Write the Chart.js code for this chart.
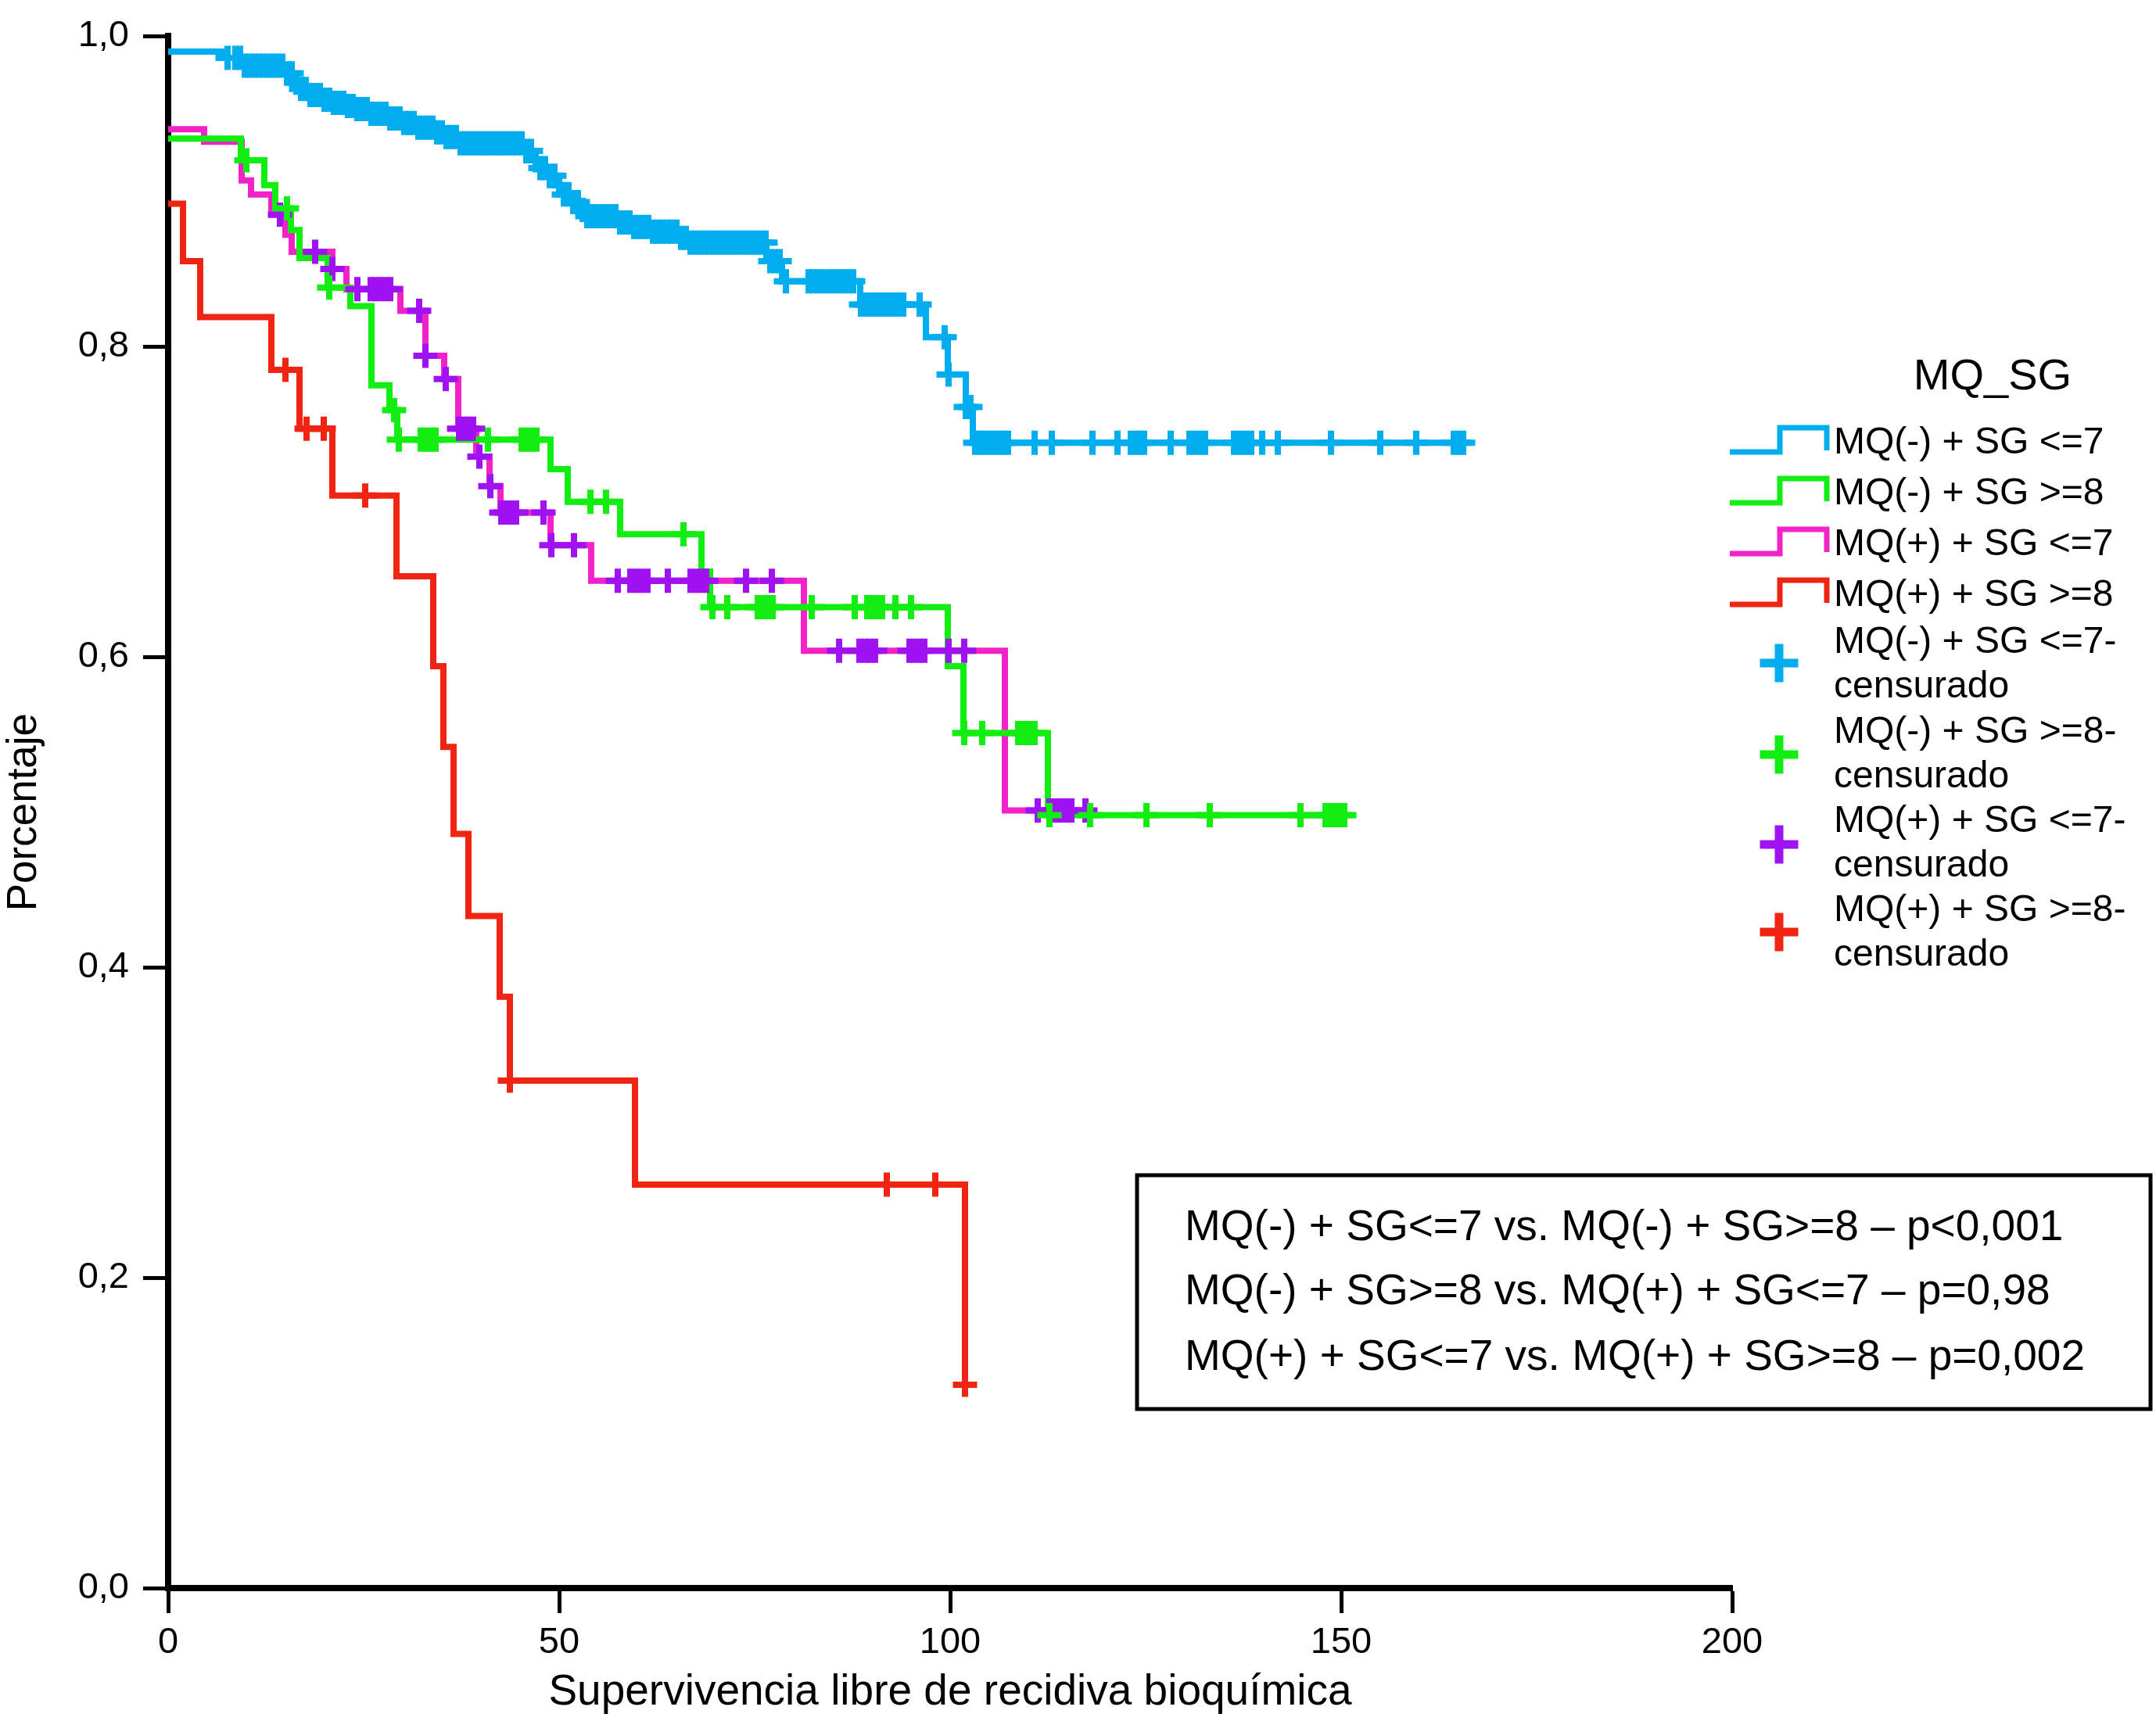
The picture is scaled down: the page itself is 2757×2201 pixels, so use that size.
<!DOCTYPE html>
<html>
<head>
<meta charset="utf-8">
<script src="https://cdn.jsdelivr.net/npm/chart.js@4.4.1/dist/chart.umd.min.js"></script>
<style>
html,body{margin:0;padding:0;background:#fff;overflow:hidden;}
#wrap{width:2757px;height:2201px;position:relative;background:#fff;}
</style>
</head>
<body>
<div id="wrap"><canvas id="c" width="2757" height="2201"></canvas></div>
<script>
// ---------- text ----------
const xTickValues = [0, 50, 100, 150, 200];
const yTickValues = [0, 0.2, 0.4, 0.6, 0.8, 1.0];
const yTickLabels = ['0,0', '0,2', '0,4', '0,6', '0,8', '1,0'];
const xAxisTitle = 'Supervivencia libre de recidiva bioquímica';
const yAxisTitle = 'Porcentaje';
const legendTitle = 'MQ_SG';
const seriesNames = ['MQ(-) + SG <=7', 'MQ(-) + SG >=8', 'MQ(+) + SG <=7', 'MQ(+) + SG >=8'];
const censorNames = [
  ['MQ(-) + SG <=7-', 'censurado'],
  ['MQ(-) + SG >=8-', 'censurado'],
  ['MQ(+) + SG <=7-', 'censurado'],
  ['MQ(+) + SG >=8-', 'censurado']
];
const pValueLines = [
  'MQ(-) + SG<=7 vs. MQ(-) + SG>=8 \u2013 p<0,001',
  'MQ(-) + SG>=8 vs. MQ(+) + SG<=7 \u2013 p=0,98',
  'MQ(+) + SG<=7 vs. MQ(+) + SG>=8 \u2013 p=0,002'
];

// ---------- series: step start times and survival ----------
const blueTimes = [0, 7.5, 9.5, 15.0, 16.0, 17.0, 18.0, 19.5, 21.0, 22.5, 24.0, 26.0, 28.0, 30.0, 32.0, 34.0, 35.5, 37.3, 45.5, 46.5, 47.5, 48.5, 49.5, 50.5, 51.5, 52.5, 53.5, 57.8, 59.5, 61.5, 65.5, 66.5, 76.5, 78.5, 88.5, 96.9, 99.7, 102.0, 102.9, 166.0];
const blueSurv  = [0.990, 0.986, 0.981, 0.976, 0.970, 0.966, 0.962, 0.959, 0.957, 0.955, 0.953, 0.950, 0.947, 0.944, 0.941, 0.938, 0.935, 0.931, 0.926, 0.920, 0.915, 0.910, 0.904, 0.898, 0.893, 0.888, 0.884, 0.880, 0.877, 0.874, 0.870, 0.867, 0.855, 0.842, 0.827, 0.806, 0.782, 0.761, 0.738, 0.738];

const greenTimes = [0, 9.3, 12.3, 13.7, 15.7, 16.8, 20.4, 23.3, 26.0, 28.3, 29.3, 48.9, 51.1, 57.8, 68.2, 69.3, 99.7, 101.7, 112.5, 150.4];
const greenSurv  = [0.934, 0.920, 0.904, 0.889, 0.875, 0.857, 0.838, 0.826, 0.775, 0.759, 0.740, 0.721, 0.700, 0.679, 0.655, 0.632, 0.594, 0.551, 0.498, 0.498];

const pinkTimes = [0, 4.6, 9.4, 10.6, 13.2, 15.0, 15.8, 21.0, 22.8, 29.7, 32.9, 35.3, 37.1, 39.4, 41.1, 42.5, 48.9, 54.1, 81.3, 107.0, 117.4];
const pinkSurv  = [0.940, 0.932, 0.907, 0.898, 0.885, 0.872, 0.861, 0.850, 0.837, 0.823, 0.794, 0.779, 0.747, 0.729, 0.710, 0.693, 0.672, 0.649, 0.604, 0.501, 0.501];

const redTimes = [0, 1.9, 4.1, 13.2, 16.8, 21.0, 29.2, 33.9, 35.2, 36.5, 38.4, 42.4, 43.7, 59.7, 101.9];
const redSurv  = [0.892, 0.855, 0.819, 0.785, 0.747, 0.704, 0.652, 0.594, 0.542, 0.486, 0.433, 0.381, 0.327, 0.260, 0.131];

// ---------- censored times ----------
const blueCensor = [7.6, 8.6, 9.2, 9.8, 10.4, 11.0, 11.6, 12.2, 12.8, 13.4, 14.0, 14.6, 15.2, 15.8, 16.4, 17.0, 17.6, 18.2, 18.8, 19.4, 20.0, 20.6, 21.2, 21.8, 22.4, 23.0, 23.6, 24.2, 24.8, 25.4, 26.0, 26.6, 27.2, 27.8, 28.4, 29.0, 29.6, 30.2, 30.8, 31.4, 32.0, 32.6, 33.2, 33.8, 34.4, 35.0, 35.6, 36.2, 36.8, 37.4, 38.0, 38.6, 39.2, 39.8, 40.4, 41.0, 41.6, 42.2, 42.8, 43.4, 44.0, 44.6, 45.2, 45.8, 46.4, 47.0, 47.6, 48.2, 48.8, 49.4, 50.0, 50.6, 51.2, 51.8, 52.4, 53.0, 53.6, 54.2, 54.8, 55.4, 56.0, 56.6, 57.2, 57.8, 58.4, 59.0, 59.6, 60.2, 60.8, 61.4, 62.0, 62.6, 63.2, 63.8, 64.4, 65.0, 65.6, 66.2, 66.8, 67.4, 68.0, 68.6, 69.2, 69.8, 70.4, 71.0, 71.6, 72.2, 72.8, 73.4, 74.0, 74.6, 75.2, 75.8, 76.4, 77.0, 77.6, 78.2, 79.0, 81.9, 82.5, 83.1, 83.8, 84.6, 85.2, 85.8, 86.4, 87.0, 87.6, 88.6, 89.2, 89.8, 90.4, 91.0, 91.6, 92.2, 92.8, 93.4, 94.0, 96.1, 99.3, 99.8, 102.0, 102.6, 103.2, 103.8, 104.4, 105.0, 105.6, 106.2, 106.8, 107.4, 110.8, 113.0, 118.2, 121.4, 123.1, 123.7, 124.3, 124.8, 128.2, 130.6, 131.2, 131.9, 132.6, 136.3, 137.0, 137.7, 138.5, 139.9, 141.9, 148.7, 155.0, 159.6, 164.4, 165.0, 165.6];
const greenCensor = [10.0, 15.2, 20.6, 28.9, 29.5, 32.3, 32.9, 33.6, 34.2, 40.9, 45.2, 45.8, 46.5, 47.1, 54.0, 56.0, 65.9, 69.6, 71.5, 75.4, 76.0, 76.7, 77.3, 82.3, 87.8, 89.4, 90.0, 90.7, 91.3, 93.0, 95.0, 101.8, 104.1, 108.7, 109.4, 110.1, 110.8, 112.7, 117.9, 125.1, 133.2, 144.8, 148.0, 148.6, 149.2, 149.8, 150.4];
const purpleCensor = [14.3, 18.8, 21.0, 24.2, 25.9, 26.5, 27.1, 27.8, 28.4, 32.1, 32.9, 35.5, 37.2, 37.8, 38.4, 39.0, 39.8, 41.2, 42.6, 43.2, 43.8, 44.5, 48.0, 49.0, 51.9, 57.5, 59.1, 59.8, 60.5, 61.3, 63.9, 66.8, 67.5, 68.1, 68.8, 73.9, 77.2, 85.8, 88.4, 89.1, 89.7, 90.4, 94.8, 95.4, 96.1, 96.7, 99.8, 101.8, 111.2, 112.7, 113.4, 114.1, 114.8, 115.5, 117.3];
const redCensor = [15.0, 17.7, 19.9, 25.2, 43.7, 91.9, 98.1, 101.9];

// ---------- colours ----------
const lineColors = ['#00AEEF', '#12EE12', '#F022C8', '#F02412'];
const censorColors = ['#00AEEF', '#12EE12', '#A012F2', '#F02412'];
const FONT = '"Liberation Sans", Arial, Helvetica, sans-serif';

function stepPoints(times, surv) {
  return times.map((t, i) => ({ x: t, y: surv[i] }));
}
function survAt(times, surv, t) {
  let v = surv[0];
  for (let i = 0; i < times.length; i++) {
    if (times[i] <= t + 1e-9) v = surv[i]; else break;
  }
  return v;
}
function censorPoints(cens, times, surv) {
  return cens.map(t => ({ x: t, y: survAt(times, surv, t) }));
}

const curveDefs = [
  [blueTimes, blueSurv, blueCensor],
  [greenTimes, greenSurv, greenCensor],
  [pinkTimes, pinkSurv, purpleCensor],
  [redTimes, redSurv, redCensor]
];

const datasets = [];
curveDefs.forEach((d, i) => {
  datasets.push({
    label: seriesNames[i],
    data: stepPoints(d[0], d[1]),
    stepped: 'before',
    borderColor: lineColors[i],
    backgroundColor: lineColors[i],
    borderWidth: 8,
    pointRadius: 0,
    fill: false,
    order: 10 + i
  });
});
curveDefs.forEach((d, i) => {
  datasets.push({
    label: censorNames[i].join(' '),
    data: censorPoints(d[2], d[0], d[1]),
    showLine: false,
    pointStyle: 'cross',
    pointRadius: 15.5,
    pointBorderWidth: 8,
    pointBorderColor: censorColors[i],
    pointBackgroundColor: censorColors[i],
    borderColor: censorColors[i],
    order: i
  });
});

const extrasPlugin = {
  id: 'kmExtras',
  afterDraw(chart) {
    const ctx = chart.ctx;
    ctx.save();
    ctx.fillStyle = '#000';
    ctx.textBaseline = 'alphabetic';
    // legend title
    ctx.font = '56px ' + FONT;
    ctx.textAlign = 'center';
    ctx.fillText(legendTitle, 2548, 498);
    // line entries
    ctx.textAlign = 'left';
    ctx.font = '48px ' + FONT;
    const lineBase = [580, 645, 710, 775];
    ctx.lineJoin = 'miter';
    ctx.lineCap = 'butt';
    seriesNames.forEach((name, i) => {
      const b = lineBase[i];
      ctx.strokeStyle = lineColors[i];
      ctx.lineWidth = 7;
      ctx.beginPath();
      ctx.moveTo(2212, b - 2);
      ctx.lineTo(2276, b - 2);
      ctx.lineTo(2276, b - 33);
      ctx.lineTo(2336, b - 33);
      ctx.lineTo(2336, b - 4);
      ctx.stroke();
      ctx.fillStyle = '#000';
      ctx.fillText(name, 2345, b);
    });
    // censored entries
    const cBase = [835, 950, 1064, 1178];
    const cCenter = [848, 965, 1080, 1192];
    censorNames.forEach((lines, i) => {
      ctx.strokeStyle = censorColors[i];
      ctx.lineWidth = 11;
      const cx = 2275, cy = cCenter[i], r = 24.5;
      ctx.beginPath();
      ctx.moveTo(cx - r, cy); ctx.lineTo(cx + r, cy);
      ctx.moveTo(cx, cy - r); ctx.lineTo(cx, cy + r);
      ctx.stroke();
      ctx.fillStyle = '#000';
      ctx.fillText(lines[0], 2345, cBase[i]);
      ctx.fillText(lines[1], 2345, cBase[i] + 57);
    });
    // p-value box
    ctx.strokeStyle = '#000';
    ctx.lineWidth = 5;
    ctx.strokeRect(1454, 1503, 1296, 299);
    ctx.font = '55px ' + FONT;
    const pBase = [1586, 1668, 1752];
    pValueLines.forEach((t, i) => ctx.fillText(t, 1515, pBase[i]));
    ctx.restore();
  }
};

const axisCommon = {
  grid: { drawOnChartArea: false, drawTicks: true, tickLength: 32, tickWidth: 5, tickColor: '#000' },
  border: { display: true, color: '#000', width: 8 }
};

new Chart(document.getElementById('c'), {
  type: 'line',
  data: { datasets },
  options: {
    responsive: false,
    devicePixelRatio: 1,
    animation: false,
    events: [],
    layout: { padding: { left: 0, top: 28, right: 542, bottom: 0 } },
    plugins: { legend: { display: false }, tooltip: { enabled: false }, title: { display: false } },
    scales: {
      x: {
        type: 'linear', min: 0, max: 200,
        afterBuildTicks: s => { s.ticks = xTickValues.map(v => ({ value: v })); },
        afterFit: s => { s.height = 170; },
        ticks: { color: '#000', font: { family: FONT, size: 47 }, padding: 10, maxRotation: 0, autoSkip: false, callback: v => String(v) },
        grid: axisCommon.grid,
        border: axisCommon.border,
        title: { display: true, text: xAxisTitle, color: '#000', font: { family: FONT, size: 55, lineHeight: 1.2 }, padding: { top: 0, bottom: 3 } }
      },
      y: {
        type: 'linear', min: 0, max: 1,
        afterBuildTicks: s => { s.ticks = yTickValues.map(v => ({ value: v })); },
        afterFit: s => { s.width = 215; },
        ticks: { color: '#000', font: { family: FONT, size: 47 }, padding: 18, autoSkip: false, callback: (v, i) => yTickLabels[i] },
        grid: axisCommon.grid,
        border: axisCommon.border,
        title: { display: true, text: yAxisTitle, color: '#000', font: { family: FONT, size: 53, lineHeight: 1.2 }, padding: { top: 0, bottom: 0 } }
      }
    }
  },
  plugins: [extrasPlugin]
});
</script>
</body>
</html>
